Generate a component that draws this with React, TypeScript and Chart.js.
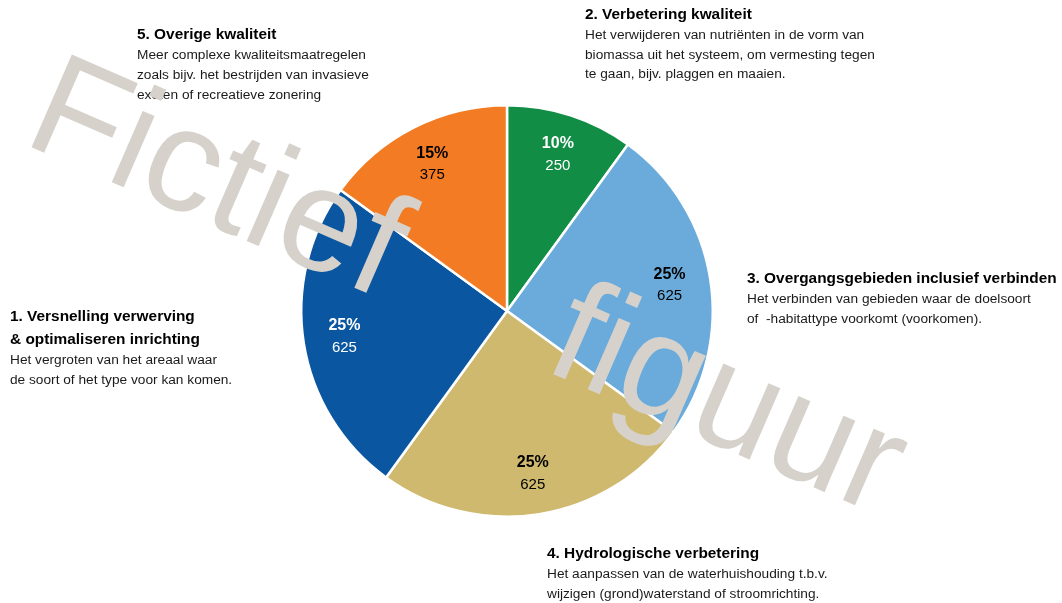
import React, { useEffect, useRef } from "react";
import { Chart, registerables } from "chart.js";

Chart.register(...registerables);

// ---- data ----
const categories = [
  "2. Verbetering kwaliteit",
  "3. Overgangsgebieden inclusief verbinden",
  "4. Hydrologische verbetering",
  "1. Versnelling verwerving & optimaliseren inrichting",
  "5. Overige kwaliteit",
];
const values = [250, 625, 625, 625, 375];
const sliceColors = ["#128d45", "#6aabdc", "#cfb96f", "#0a56a0", "#f27b24"];
const sliceTextColors = ["#ffffff", "#000000", "#000000", "#ffffff", "#000000"];

const titleLines = [
  ["2. Verbetering kwaliteit"],
  ["3. Overgangsgebieden inclusief verbinden"],
  ["4. Hydrologische verbetering"],
  ["1. Versnelling verwerving", "& optimaliseren inrichting"],
  ["5. Overige kwaliteit"],
];
const bodyLines = [
  [
    "Het verwijderen van nutriënten in de vorm van",
    "biomassa uit het systeem, om vermesting tegen",
    "te gaan, bijv. plaggen en maaien.",
  ],
  ["Het verbinden van gebieden waar de doelsoort", "of  -habitattype voorkomt (voorkomen)."],
  ["Het aanpassen van de waterhuishouding t.b.v.", "wijzigen (grond)waterstand of stroomrichting."],
  ["Het vergroten van het areaal waar", "de soort of het type voor kan komen."],
  [
    "Meer complexe kwaliteitsmaatregelen",
    "zoals bijv. het bestrijden van invasieve",
    "exoten of recreatieve zonering",
  ],
];
const watermarkWords = ["Fictief", "figuur"];

// ---- layout (not data) ----
const calloutAnchors = [
  { x: 585, y: 14.5 },
  { x: 747, y: 279 },
  { x: 547, y: 554 },
  { x: 10, y: 317 },
  { x: 137, y: 35 },
];
const FONT = "'Liberation Sans', Arial, Helvetica, sans-serif";

const overlayPlugin = {
  id: "overlay",
  afterDraw(chart: any) {
    const ctx: CanvasRenderingContext2D = chart.ctx;
    const meta = chart.getDatasetMeta(0);
    const total = values.reduce((a, b) => a + b, 0);
    ctx.save();
    // slice labels
    meta.data.forEach((arc: any, i: number) => {
      const mid = (arc.startAngle + arc.endAngle) / 2;
      const r = arc.outerRadius * 0.8;
      const cx = arc.x + Math.cos(mid) * r;
      const cy = arc.y + Math.sin(mid) * r;
      ctx.fillStyle = sliceTextColors[i];
      ctx.textAlign = "center";
      ctx.textBaseline = "middle";
      ctx.font = `bold 16px ${FONT}`;
      ctx.fillText(Math.round((values[i] / total) * 100) + "%", cx, cy - 11);
      ctx.font = `15px ${FONT}`;
      ctx.fillText(String(values[i]), cx, cy + 11);
    });
    // callouts
    ctx.textAlign = "left";
    ctx.textBaseline = "middle";
    calloutAnchors.forEach((a, i) => {
      let y = a.y;
      ctx.fillStyle = "#000000";
      ctx.font = `bold 15.4px ${FONT}`;
      titleLines[i].forEach((t) => {
        ctx.fillText(t, a.x, y);
        y += 23;
      });
      y -= 23;
      y += 20.5;
      ctx.fillStyle = "#1a1a1a";
      ctx.font = `13.7px ${FONT}`;
      bodyLines[i].forEach((t) => {
        ctx.fillText(t, a.x, y);
        y += 19.8;
      });
    });
    // watermark
    ctx.translate(20.5, 142.5);
    ctx.rotate((23.5 * Math.PI) / 180);
    ctx.font = `147px ${FONT}`;
    ctx.textAlign = "left";
    ctx.textBaseline = "alphabetic";
    ctx.fillStyle = "rgb(214,210,203)";
    ctx.fillText(watermarkWords[0], 0, 0);
    ctx.fillText(watermarkWords[1], 568, 0);
    ctx.restore();
  },
};

export default function App() {
  const ref = useRef<HTMLCanvasElement | null>(null);
  useEffect(() => {
    document.body.style.margin = "0";
    const chart = new Chart(ref.current as HTMLCanvasElement, {
      type: "pie",
      data: {
        labels: categories,
        datasets: [
          {
            data: values,
            backgroundColor: sliceColors,
            borderColor: "#ffffff",
            borderWidth: 2.5,
            hoverBorderWidth: 2.5,
            hoverOffset: 0,
          },
        ],
      },
      options: {
        animation: false,
        responsive: true,
        maintainAspectRatio: false,
        events: [],
        layout: { padding: { left: 300, right: 348, top: 104, bottom: 85 } },
        plugins: { legend: { display: false }, tooltip: { enabled: false } },
      },
      plugins: [overlayPlugin],
    });
    return () => chart.destroy();
  }, []);
  return (
    <div style={{ position: "absolute", left: 0, top: 0, width: 1062, height: 603, background: "#fff" }}>
      <canvas ref={ref} />
    </div>
  );
}
